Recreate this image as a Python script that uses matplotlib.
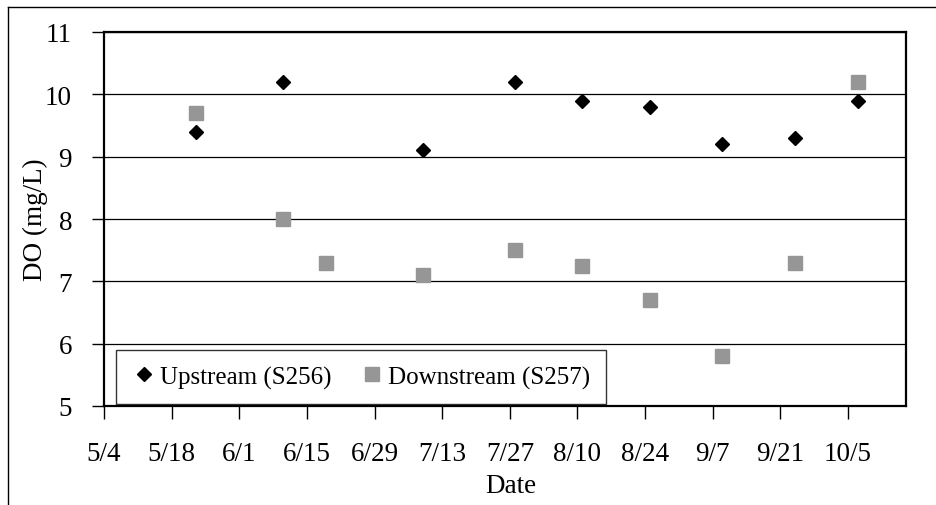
import numpy as np
import pandas as pd
import matplotlib
matplotlib.use("Agg")
import matplotlib.pyplot as plt
import matplotlib.dates as mdates
from matplotlib.lines import Line2D

plt.rcParams['font.family'] = ['Liberation Serif', 'DejaVu Serif']

# sampling dates and DO readings
dates = ['2007-05-23', '2007-06-10', '2007-07-09', '2007-07-28', '2007-08-11',
         '2007-08-25', '2007-09-09', '2007-09-24', '2007-10-07']
upstream = [9.4, 10.2, 9.1, 10.2, 9.9, 9.8, 9.2, 9.3, 9.9]

down_dates = ['2007-05-23', '2007-06-10', '2007-06-19', '2007-07-09', '2007-07-28',
              '2007-08-11', '2007-08-25', '2007-09-09', '2007-09-24', '2007-10-07']
downstream = [9.7, 8.0, 7.3, 7.1, 7.5, 7.25, 6.7, 5.8, 7.3, 10.2]

labels = ['Upstream (S256)', 'Downstream (S257)']
x_start, x_end = '2007-05-04', '2007-10-17'

W, H = 936, 506
fig = plt.figure(figsize=(W / 100, H / 100), dpi=100)
ax = fig.add_axes([104 / W, (H - 407) / H, 802 / W, 374 / H])

ax.plot(pd.to_datetime(dates), upstream, linestyle='none', marker='D',
        markersize=7.3, color='black', label=labels[0], zorder=3)
ax.plot(pd.to_datetime(down_dates), downstream, linestyle='none', marker='s',
        markersize=10, color='#969696', label=labels[1], zorder=3)

ax.set_xlim(pd.Timestamp(x_start), pd.Timestamp(x_end))
ax.set_ylim(5, 11)
ax.set_yticks(range(5, 12))
ax.set_xticks(pd.date_range(x_start, periods=12, freq='14D'))
ax.xaxis.set_major_formatter(plt.FuncFormatter(
    lambda v, p: f"{mdates.num2date(v).month}/{mdates.num2date(v).day}"))

ax.grid(axis='y', color='black', linewidth=0.9)
ax.set_axisbelow(True)
for s in ax.spines.values():
    s.set_linewidth(1.6)
    s.set_color('black')
ax.tick_params(axis='both', direction='out', length=9, width=1, labelsize=19.5, colors='black')
ax.tick_params(axis='y', pad=14)
ax.tick_params(axis='x', pad=16)

ax.set_ylabel('DO (mg/L)', fontsize=19.5, va='center')
ax.yaxis.set_label_coords((35 - 104) / 802, 0.5)
ax.set_xlabel('Date', fontsize=19.5, va='center')
ax.xaxis.set_label_coords(0.507, (407 - 487) / 374)

leg = ax.legend(loc='lower left', bbox_to_anchor=(0.015, 0.005), borderaxespad=0,
                ncol=2, fontsize=18, frameon=True, fancybox=False, edgecolor='black',
                handletextpad=0.15, columnspacing=1.1, handlelength=1.0,
                borderpad=0.62)
leg.get_frame().set_linewidth(1.0)

# outer chart border (top and left only visible)
fig.add_artist(Line2D([8 / W, 1], [1 - 8 / H, 1 - 8 / H], color='black', linewidth=1))
fig.add_artist(Line2D([8 / W, 8 / W], [0, 1 - 8 / H], color='black', linewidth=1))

fig.savefig('out.png', dpi=100)
